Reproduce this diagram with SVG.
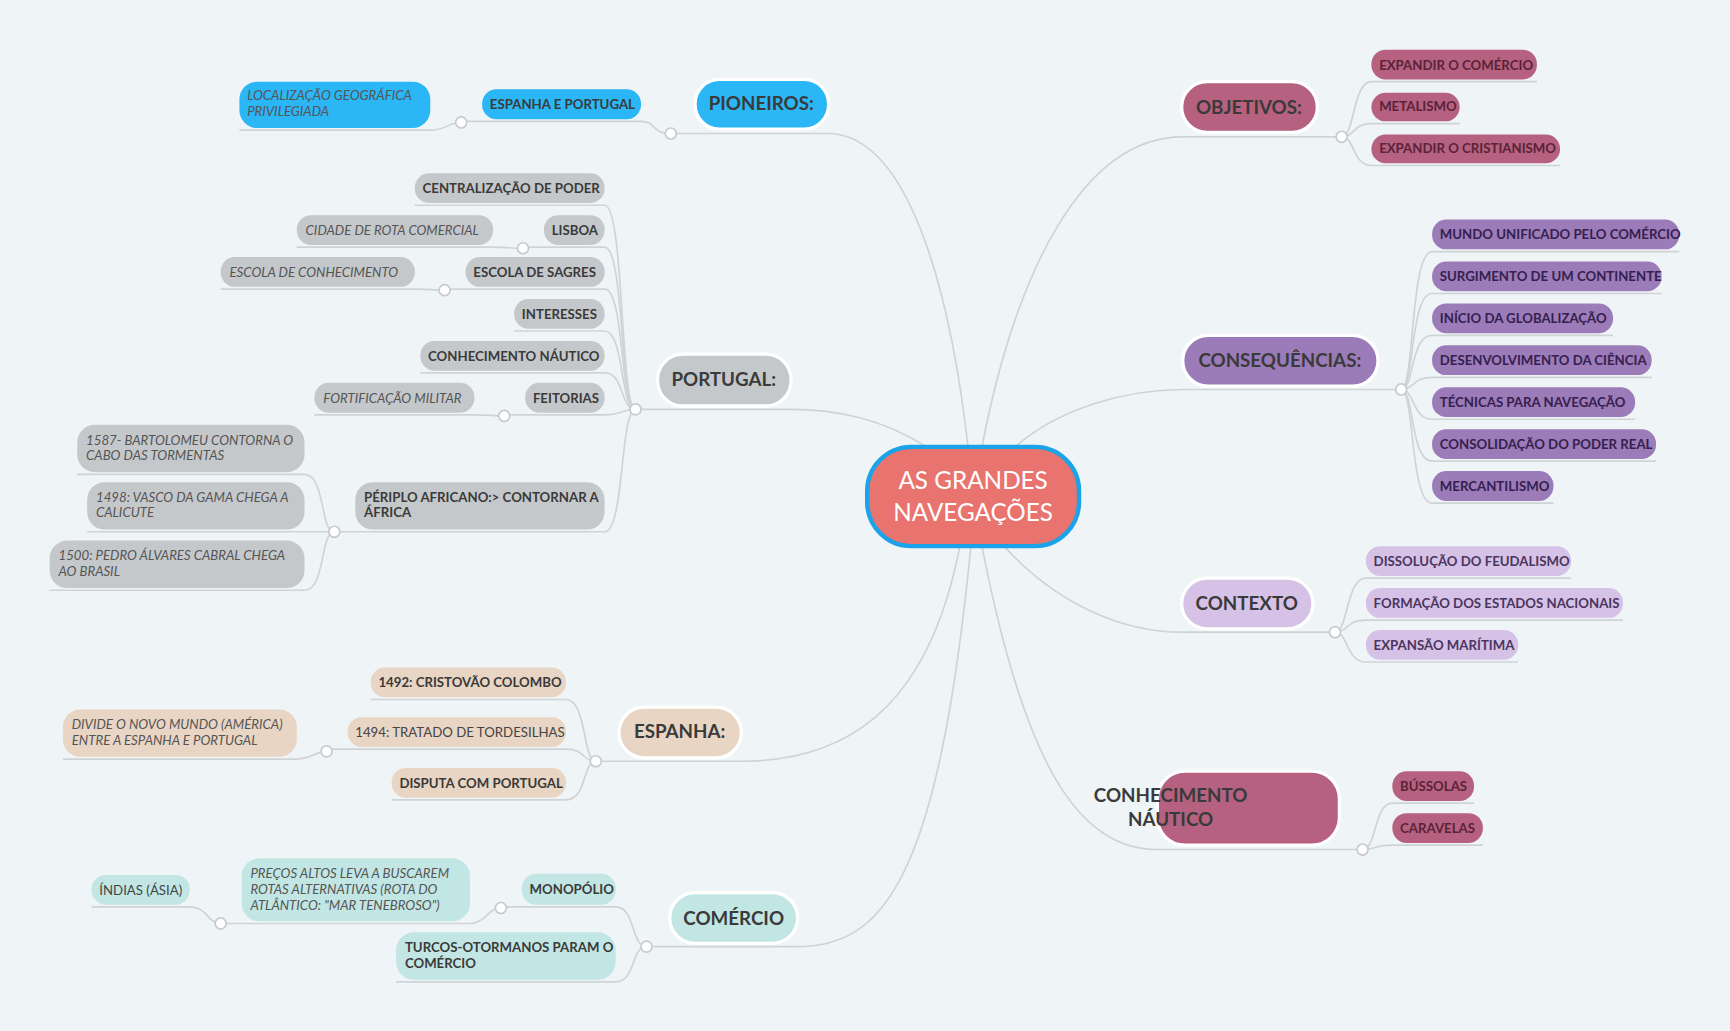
<svg xmlns="http://www.w3.org/2000/svg" width="1730" height="1031" viewBox="0 0 1730 1031">
<style>
.c{fill:none;stroke:#cfd3d6;stroke-width:1.5}
.j{fill:#fff;stroke:#c6cacd;stroke-width:1.5}
.m{stroke:#fff;stroke-width:3}
.mt{font-family:Lato,"Open Sans",sans-serif;font-weight:bold;font-size:17px;fill:#3a3a3a;text-anchor:middle}
.s{font-family:Lato,"Open Sans",sans-serif;font-weight:bold;font-size:12px;fill:#3a3a3a}
.i{font-family:Lato,"Open Sans",sans-serif;font-style:italic;font-size:12px;fill:#555}
.n{font-family:Lato,"Open Sans",sans-serif;font-size:12px;fill:#444}
.gr{fill:#c5c8cb}.bl{fill:#2bb6f5}.be{fill:#e8d5c4}.te{fill:#c2e6e4}.ro{fill:#b5617f}.pu{fill:#9b7bb8}.li{fill:#d6c2e6}
.ro2{font-family:Lato,"Open Sans",sans-serif;font-weight:bold;font-size:12px;fill:#5a2338}
.pu2{font-family:Lato,"Open Sans",sans-serif;font-weight:bold;font-size:12px;fill:#35204f}
.li2{font-family:Lato,"Open Sans",sans-serif;font-weight:bold;font-size:12px;fill:#4a3560}
</style>
<rect width="1730" height="1031" fill="#eff4f7"/>
<g transform="scale(1.1033)">
<g id="connectors">
<path class="c" d="M878 410 C860 250 820 121 750 121 L608 121"/>
<path class="c" d="M840 405 C800 380 760 371 716 371 L576 371"/>
<path class="c" d="M870 495 C840 650 760 690 671 690 L540 690"/>
<path class="c" d="M880 495 C850 800 800 858 722 858 L586 858"/>
<path class="c" d="M890 405 C920 250 980 124 1072 124 L1216 124"/>
<path class="c" d="M920 405 C960 370 1020 353 1073 353 L1270 353"/>
<path class="c" d="M910 495 C960 550 1020 573 1072 573 L1210 573"/>
<path class="c" d="M890 495 C930 700 980 770 1050 770 L1235 770"/>
<!-- pioneiros -->
<path class="c" d="M608 121 C590 121 595 110 581 110 L418 110"/>
<path class="c" d="M418 111 C405 111 405 118 390 118 L217 118"/>
<!-- objetivos -->
<path class="c" d="M1216 124 C1228 124 1226 74 1243 74 L1393 74"/>
<path class="c" d="M1216 124 C1228 124 1226 112 1243 112 L1323 112"/>
<path class="c" d="M1216 124 C1228 124 1226 150 1243 150 L1414 150"/>
<!-- consequencias -->
<path class="c" d="M1270 353 C1282 353 1278 228 1298 228 L1522 228"/>
<path class="c" d="M1270 353 C1282 353 1278 266 1298 266 L1506 266"/>
<path class="c" d="M1270 353 C1282 353 1278 304 1298 304 L1462 304"/>
<path class="c" d="M1270 353 C1282 353 1280 342 1298 342 L1497 342"/>
<path class="c" d="M1270 353 C1282 353 1280 380 1298 380 L1482 380"/>
<path class="c" d="M1270 353 C1282 353 1278 418 1298 418 L1501 418"/>
<path class="c" d="M1270 353 C1282 353 1278 456 1298 456 L1408 456"/>
<!-- contexto -->
<path class="c" d="M1210 573 C1222 573 1220 524 1238 524 L1424 524"/>
<path class="c" d="M1210 573 C1222 573 1220 562 1238 562 L1471 562"/>
<path class="c" d="M1210 573 C1222 573 1220 600 1238 600 L1376 600"/>
<!-- conhecimento -->
<path class="c" d="M1235 770 C1248 770 1245 728 1262 728 L1336 728"/>
<path class="c" d="M1235 770 C1248 770 1245 766 1262 766 L1344 766"/>
<!-- portugal -->
<path class="c" d="M376 186 L548 186 C566 186 562 371 576 371"/>
<path class="c" d="M474 224 L548 224 C566 224 562 371 576 371"/>
<path class="c" d="M269 224 L447 224 C460 224 462 225 474 225"/>
<path class="c" d="M403 262 L548 262 C566 262 562 371 576 371"/>
<path class="c" d="M200 262 L376 262 C390 262 392 263 403 263"/>
<path class="c" d="M466 300 L548 300 C566 300 562 371 576 371"/>
<path class="c" d="M381 338 L548 338 C566 338 562 371 576 371"/>
<path class="c" d="M457 376 L548 376 C566 376 562 371 576 371"/>
<path class="c" d="M285 376 L430 376 C445 376 445 377 457 377"/>
<path class="c" d="M303 482 L548 482 C566 482 562 371 576 371"/>
<path class="c" d="M70 430 L276 430 C295 430 290 482 303 482"/>
<path class="c" d="M79 482 L303 482"/>
<path class="c" d="M45 535 L276 535 C295 535 290 482 303 482"/>
<!-- espanha -->
<path class="c" d="M336 634 L513 634 C532 634 528 690 540 690"/>
<path class="c" d="M296 679 L513 679 C530 679 528 690 540 690"/>
<path class="c" d="M57 688 L269 688 C283 688 285 681 296 681"/>
<path class="c" d="M355 725 L513 725 C532 725 528 690 540 690"/>
<!-- comercio -->
<path class="c" d="M454 822 L558 822 C576 822 572 858 586 858"/>
<path class="c" d="M200 837 L426 837 C440 837 442 823 454 823"/>
<path class="c" d="M83 822 L172 822 C188 822 188 837 200 837"/>
<path class="c" d="M359 890 L558 890 C576 890 572 858 586 858"/>
<!-- junctions -->
<circle class="j" cx="608" cy="121" r="5"/><circle class="j" cx="418" cy="111" r="5"/>
<circle class="j" cx="1216" cy="124" r="5"/><circle class="j" cx="1270" cy="353" r="5"/>
<circle class="j" cx="1210" cy="573" r="5"/><circle class="j" cx="1235" cy="770" r="5"/>
<circle class="j" cx="576" cy="371" r="5"/><circle class="j" cx="474" cy="225" r="5"/>
<circle class="j" cx="403" cy="263" r="5"/><circle class="j" cx="457" cy="377" r="5"/>
<circle class="j" cx="303" cy="482" r="5"/><circle class="j" cx="540" cy="690" r="5"/>
<circle class="j" cx="296" cy="681" r="5"/><circle class="j" cx="586" cy="858" r="5"/>
<circle class="j" cx="454" cy="823" r="5"/><circle class="j" cx="200" cy="837" r="5"/>
</g>
<g id="center"><rect x="786" y="405" width="192" height="90" rx="40" fill="#e8736f" stroke="#1aa3e8" stroke-width="4"/>
<text x="882" y="443" font-family="Lato,'Open Sans',sans-serif" font-size="22" fill="#fff" text-anchor="middle">AS GRANDES</text>
<text x="882" y="472" font-family="Lato,'Open Sans',sans-serif" font-size="22" fill="#fff" text-anchor="middle">NAVEGAÇÕES</text></g>
<g id="pioneiros"><rect class="m bl" x="630" y="72" width="121" height="45" rx="22"/><text class="mt" x="690" y="100">PIONEIROS:</text></g>
<g id="portugal"><rect class="m gr" x="596" y="321" width="121" height="47" rx="23"/><text class="mt" x="656" y="350">PORTUGAL:</text></g>
<g id="espanha"><rect class="m be" x="561" y="641" width="111" height="46" rx="23"/><text class="mt" x="616" y="669">ESPANHA:</text></g>
<g id="comercio"><rect class="m te" x="607" y="809" width="116" height="46" rx="23"/><text class="mt" x="665" y="838">COMÉRCIO</text></g>
<g id="objetivos"><rect class="m ro" x="1071" y="74" width="123" height="46" rx="23"/><text class="mt" x="1132" y="103">OBJETIVOS:</text></g>
<g id="consequencias"><rect class="m pu" x="1072" y="304" width="177" height="46" rx="23"/><text class="mt" x="1160" y="333">CONSEQUÊNCIAS:</text></g>
<g id="contexto"><rect class="m li" x="1071" y="524" width="119" height="46" rx="23"/><text class="mt" x="1130" y="553">CONTEXTO</text></g>
<g id="conhecimento"><rect class="m ro" x="1049" y="699" width="165" height="67" rx="25"/><text class="mt" x="1061" y="727" text-anchor="start">CONHECIMENTO</text><text class="mt" x="1061" y="749" text-anchor="start">NÁUTICO</text></g>
<g id="espanha-portugal"><rect class="bl" x="437" y="81" width="144" height="27" rx="13"/><text class="s" x="444" y="99">ESPANHA E PORTUGAL</text></g>
<g id="localizacao"><rect class="bl" x="217" y="74" width="173" height="42" rx="16"/><text class="i" x="224" y="91">LOCALIZAÇÃO GEOGRÁFICA</text><text class="i" x="224" y="105">PRIVILEGIADA</text></g>
<g id="o1"><rect class="ro" x="1243" y="45" width="150" height="27" rx="13"/><text class="ro2" x="1250" y="63">EXPANDIR O COMÉRCIO</text></g>
<g id="o2"><rect class="ro" x="1243" y="84" width="80" height="26" rx="13"/><text class="ro2" x="1250" y="101">METALISMO</text></g>
<g id="o3"><rect class="ro" x="1243" y="122" width="171" height="26" rx="13"/><text class="ro2" x="1250" y="139">EXPANDIR O CRISTIANISMO</text></g>
<g id="c1"><rect class="pu" x="1298" y="199" width="224" height="27" rx="13"/><text class="pu2" x="1305" y="217">MUNDO UNIFICADO PELO COMÉRCIO</text></g>
<g id="c2"><rect class="pu" x="1298" y="237" width="208" height="27" rx="13"/><text class="pu2" x="1305" y="255">SURGIMENTO DE UM CONTINENTE</text></g>
<g id="c3"><rect class="pu" x="1298" y="275" width="164" height="27" rx="13"/><text class="pu2" x="1305" y="293">INÍCIO DA GLOBALIZAÇÃO</text></g>
<g id="c4"><rect class="pu" x="1298" y="313" width="199" height="27" rx="13"/><text class="pu2" x="1305" y="331">DESENVOLVIMENTO DA CIÊNCIA</text></g>
<g id="c5"><rect class="pu" x="1298" y="351" width="184" height="27" rx="13"/><text class="pu2" x="1305" y="369">TÉCNICAS PARA NAVEGAÇÃO</text></g>
<g id="c6"><rect class="pu" x="1298" y="389" width="203" height="27" rx="13"/><text class="pu2" x="1305" y="407">CONSOLIDAÇÃO DO PODER REAL</text></g>
<g id="c7"><rect class="pu" x="1298" y="427" width="110" height="27" rx="13"/><text class="pu2" x="1305" y="445">MERCANTILISMO</text></g>
<g id="x1"><rect class="li" x="1238" y="495" width="186" height="27" rx="13"/><text class="li2" x="1245" y="513">DISSOLUÇÃO DO FEUDALISMO</text></g>
<g id="x2"><rect class="li" x="1238" y="533" width="233" height="27" rx="13"/><text class="li2" x="1245" y="551">FORMAÇÃO DOS ESTADOS NACIONAIS</text></g>
<g id="x3"><rect class="li" x="1238" y="571" width="138" height="27" rx="13"/><text class="li2" x="1245" y="589">EXPANSÃO MARÍTIMA</text></g>
<g id="n1"><rect class="ro" x="1262" y="699" width="74" height="27" rx="13"/><text class="ro2" x="1269" y="717">BÚSSOLAS</text></g>
<g id="n2"><rect class="ro" x="1262" y="737" width="82" height="27" rx="13"/><text class="ro2" x="1269" y="755">CARAVELAS</text></g>
<g id="p1"><rect class="gr" x="376" y="157" width="172" height="27" rx="13"/><text class="s" x="383" y="175">CENTRALIZAÇÃO DE PODER</text></g>
<g id="p2"><rect class="gr" x="493" y="195" width="55" height="27" rx="13"/><text class="s" x="500" y="213">LISBOA</text></g>
<g id="p2a"><rect class="gr" x="269" y="195" width="178" height="27" rx="13"/><text class="i" x="277" y="213">CIDADE DE ROTA COMERCIAL</text></g>
<g id="p3"><rect class="gr" x="422" y="233" width="126" height="27" rx="13"/><text class="s" x="429" y="251">ESCOLA DE SAGRES</text></g>
<g id="p3a"><rect class="gr" x="200" y="233" width="176" height="27" rx="13"/><text class="i" x="208" y="251">ESCOLA DE CONHECIMENTO</text></g>
<g id="p4"><rect class="gr" x="466" y="271" width="82" height="27" rx="13"/><text class="s" x="473" y="289">INTERESSES</text></g>
<g id="p5"><rect class="gr" x="381" y="309" width="167" height="27" rx="13"/><text class="s" x="388" y="327">CONHECIMENTO NÁUTICO</text></g>
<g id="p6"><rect class="gr" x="476" y="347" width="72" height="27" rx="13"/><text class="s" x="483" y="365">FEITORIAS</text></g>
<g id="p6a"><rect class="gr" x="285" y="347" width="145" height="27" rx="13"/><text class="i" x="293" y="365">FORTIFICAÇÃO MILITAR</text></g>
<g id="p7"><rect class="gr" x="322" y="437" width="226" height="43" rx="16"/><text class="s" x="330" y="455">PÉRIPLO AFRICANO:&gt; CONTORNAR A</text><text class="s" x="330" y="469">ÁFRICA</text></g>
<g id="p7a"><rect class="gr" x="70" y="385" width="206" height="43" rx="16"/><text class="i" x="78" y="403">1587- BARTOLOMEU CONTORNA O</text><text class="i" x="78" y="417">CABO DAS TORMENTAS</text></g>
<g id="p7b"><rect class="gr" x="79" y="437" width="197" height="43" rx="16"/><text class="i" x="87" y="455">1498: VASCO DA GAMA CHEGA A</text><text class="i" x="87" y="469">CALICUTE</text></g>
<g id="p7c"><rect class="gr" x="45" y="490" width="231" height="43" rx="16"/><text class="i" x="53" y="508">1500: PEDRO ÁLVARES CABRAL CHEGA</text><text class="i" x="53" y="522">AO BRASIL</text></g>
<g id="e1"><rect class="be" x="336" y="605" width="177" height="27" rx="13"/><text class="s" x="343" y="623">1492: CRISTOVÃO COLOMBO</text></g>
<g id="e2"><rect class="be" x="315" y="650" width="198" height="27" rx="13"/><text class="n" x="322" y="668">1494: TRATADO DE TORDESILHAS</text></g>
<g id="e2a"><rect class="be" x="57" y="643" width="212" height="43" rx="16"/><text class="i" x="65" y="661">DIVIDE O NOVO MUNDO (AMÉRICA)</text><text class="i" x="65" y="675">ENTRE A ESPANHA E PORTUGAL</text></g>
<g id="e3"><rect class="be" x="355" y="696" width="158" height="27" rx="13"/><text class="s" x="362" y="714">DISPUTA COM PORTUGAL</text></g>
<g id="m1"><rect class="te" x="473" y="792" width="85" height="28" rx="13"/><text class="s" x="480" y="810">MONOPÓLIO</text></g>
<g id="m1a"><rect class="te" x="219" y="778" width="207" height="57" rx="16"/><text class="i" x="227" y="796">PREÇOS ALTOS LEVA A BUSCAREM</text><text class="i" x="227" y="810">ROTAS ALTERNATIVAS  (ROTA DO</text><text class="i" x="227" y="825">ATLÂNTICO: "MAR TENEBROSO")</text></g>
<g id="m1b"><rect class="te" x="83" y="793" width="89" height="27" rx="13"/><text class="n" x="90" y="811">ÍNDIAS (ÁSIA)</text></g>
<g id="m2"><rect class="te" x="359" y="845" width="199" height="43" rx="16"/><text class="s" x="367" y="863">TURCOS-OTORMANOS PARAM O</text><text class="s" x="367" y="877">COMÉRCIO</text></g>
</g>
</svg>
